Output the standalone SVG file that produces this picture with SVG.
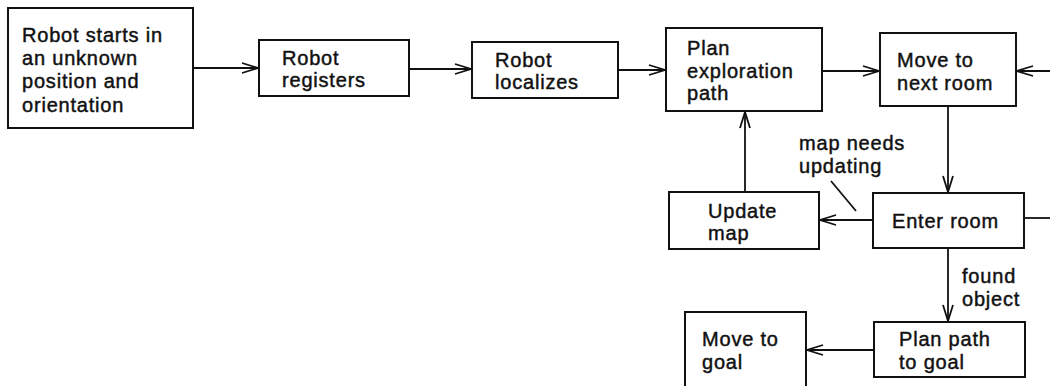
<svg xmlns="http://www.w3.org/2000/svg" width="1050" height="386" viewBox="0 0 1050 386">
<style>
  .box { fill: #fff; stroke: #111; stroke-width: 2; }
  .t { font-family: "Liberation Sans", Arial, sans-serif; font-size: 20px; letter-spacing: 0.8px; fill: #111; stroke: #111; stroke-width: 0.45; }
  .c { fill: none; stroke: #111; stroke-width: 1.8; }
</style>
<defs>
  <marker id="arr" markerUnits="userSpaceOnUse" markerWidth="20" markerHeight="14" refX="0" refY="0" viewBox="-18 -7 20 14" orient="auto" overflow="visible">
    <path d="M-16,-5 L0,0 L-16,5" fill="none" stroke="#111" stroke-width="1.8"/>
  </marker>
</defs>
<rect width="1050" height="386" fill="#fff"/>
<g id="connectors">
  <line class="c" x1="193" y1="68" x2="258" y2="68" marker-end="url(#arr)"/>
  <line class="c" x1="409" y1="69" x2="471" y2="69" marker-end="url(#arr)"/>
  <line class="c" x1="618" y1="70" x2="665" y2="70" marker-end="url(#arr)"/>
  <line class="c" x1="822" y1="71" x2="879" y2="71" marker-end="url(#arr)"/>
  <line class="c" x1="1050" y1="71" x2="1017" y2="71" marker-end="url(#arr)"/>
  <line class="c" x1="948" y1="106" x2="948" y2="192" marker-end="url(#arr)"/>
  <line class="c" x1="873" y1="220" x2="820" y2="220" marker-end="url(#arr)"/>
  <line class="c" x1="745" y1="192" x2="745" y2="112" marker-end="url(#arr)"/>
  <line class="c" x1="1024" y1="218" x2="1050" y2="218"/>
  <line class="c" x1="948" y1="248" x2="948" y2="321" marker-end="url(#arr)"/>
  <line class="c" x1="874" y1="350" x2="807" y2="350" marker-end="url(#arr)"/>
  <line class="c" x1="831" y1="181" x2="856" y2="211"/>
  <text class="t" x="799" y="150">map needs</text>
  <text class="t" x="799" y="172.5">updating</text>
  <text class="t" x="962" y="283">found</text>
  <text class="t" x="962" y="305.5">object</text>
</g>
<g id="n1">
  <rect class="box" x="8" y="8" width="185" height="120"/>
  <text class="t" x="22" y="42">Robot starts in</text>
  <text class="t" x="22" y="65">an unknown</text>
  <text class="t" x="22" y="88">position and</text>
  <text class="t" x="22" y="112">orientation</text>
</g>
<g id="n2">
  <rect class="box" x="259" y="40" width="150" height="56"/>
  <text class="t" x="282" y="64.75">Robot</text>
  <text class="t" x="282" y="87.25">registers</text>
</g>
<g id="n3">
  <rect class="box" x="472" y="42" width="146" height="56"/>
  <text class="t" x="495" y="66.75">Robot</text>
  <text class="t" x="495" y="89.25">localizes</text>
</g>
<g id="n4">
  <rect class="box" x="666" y="28" width="156" height="83"/>
  <text class="t" x="687" y="55">Plan</text>
  <text class="t" x="687" y="77.5">exploration</text>
  <text class="t" x="687" y="100">path</text>
</g>
<g id="n5">
  <rect class="box" x="880" y="33" width="136" height="73"/>
  <text class="t" x="897" y="67">Move to</text>
  <text class="t" x="897" y="90">next room</text>
</g>
<g id="n6">
  <rect class="box" x="669" y="192" width="150" height="57"/>
  <text class="t" x="708" y="217.75">Update</text>
  <text class="t" x="708" y="240.25">map</text>
</g>
<g id="n7">
  <rect class="box" x="873" y="193" width="151" height="55"/>
  <text class="t" x="892" y="228">Enter room</text>
</g>
<g id="n8">
  <rect class="box" x="874" y="322" width="151" height="55"/>
  <text class="t" x="899" y="346">Plan path</text>
  <text class="t" x="899" y="368.5">to goal</text>
</g>
<g id="n9">
  <rect class="box" x="685" y="312" width="121" height="100"/>
  <text class="t" x="702" y="346">Move to</text>
  <text class="t" x="702" y="368.5">goal</text>
</g>
</svg>
